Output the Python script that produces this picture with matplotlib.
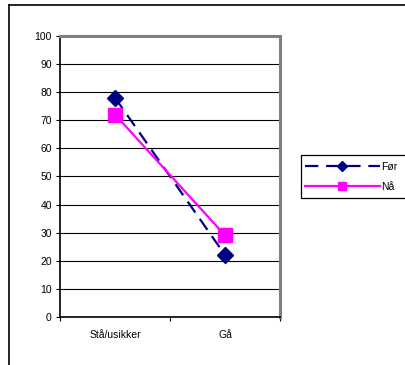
import matplotlib.pyplot as plt
from matplotlib.lines import Line2D
from matplotlib.patches import Rectangle

plt.rcParams['font.family'] = ['Liberation Sans', 'DejaVu Sans']

categories = ["Stå/usikker", "Gå"]
for_values = [78, 22]
naa_values = [72, 29]
series_names = ["Før", "Nå"]

fig = plt.figure(figsize=(4.06, 3.65), dpi=100)
ax = fig.add_axes([0.148, 0.1315, 0.542, 0.770])

x = list(range(len(categories)))
ax.plot(x, for_values, color="#000080", lw=1.6, dashes=(6, 3.5),
        marker="D", markersize=8, markerfacecolor="#000080",
        markeredgecolor="#000080", label=series_names[0], zorder=3)
ax.plot(x, naa_values, color="#FF00FF", lw=1.6,
        marker="s", markersize=10.5, markerfacecolor="#FF00FF",
        markeredgecolor="#FF00FF", label=series_names[1], zorder=4)

ax.set_xlim(-0.5, 1.5)
ax.set_ylim(0, 100)
ax.set_yticks(range(0, 101, 10))
ax.yaxis.grid(True, color="black", lw=0.8)
ax.set_axisbelow(True)

# category tick marks sit between the categories, labels in the middle
ax.set_xticks([-0.5, 0.5, 1.5])
ax.set_xticklabels([])
ax.set_xticks(x, minor=True)
ax.set_xticklabels(categories, minor=True)
ax.tick_params(axis="x", which="minor", length=0, pad=9, labelsize=7.5)
ax.tick_params(axis="x", which="major", length=3, width=0.8, direction="out")
ax.tick_params(axis="y", length=3, width=0.8, labelsize=7.5, pad=3)

ax.spines["left"].set_color("black")
ax.spines["bottom"].set_color("black")
ax.spines["left"].set_linewidth(1.2)
ax.spines["bottom"].set_linewidth(1.2)
ax.spines["top"].set_color("#808080")
ax.spines["right"].set_color("#808080")
ax.spines["top"].set_linewidth(2.2)
ax.spines["right"].set_linewidth(2.2)

# legend box runs off the right edge, so draw the frame separately
fig.add_artist(Rectangle((301 / 406, 1 - 198 / 365), 110 / 406, 43 / 365,
                         transform=fig.transFigure, facecolor="white",
                         edgecolor="black", lw=0.9, zorder=5))
leg = fig.legend(loc="upper left", bbox_to_anchor=(0.746, 1 - 160 / 365),
                 fontsize=7.5, handlelength=7.2, handletextpad=0.15,
                 markerscale=0.6, frameon=False,
                 borderpad=0.2, labelspacing=0.95, borderaxespad=0)
leg.set_zorder(6)

# outer chart border (top and left edges only)
fig.add_artist(Line2D([9 / 406, 1.0], [1 - 5 / 365, 1 - 5 / 365],
                      transform=fig.transFigure, color="black", lw=1.2))
fig.add_artist(Line2D([9 / 406, 9 / 406], [0, 1 - 5 / 365],
                      transform=fig.transFigure, color="black", lw=1.2))

fig.savefig("out.png", dpi=100)
